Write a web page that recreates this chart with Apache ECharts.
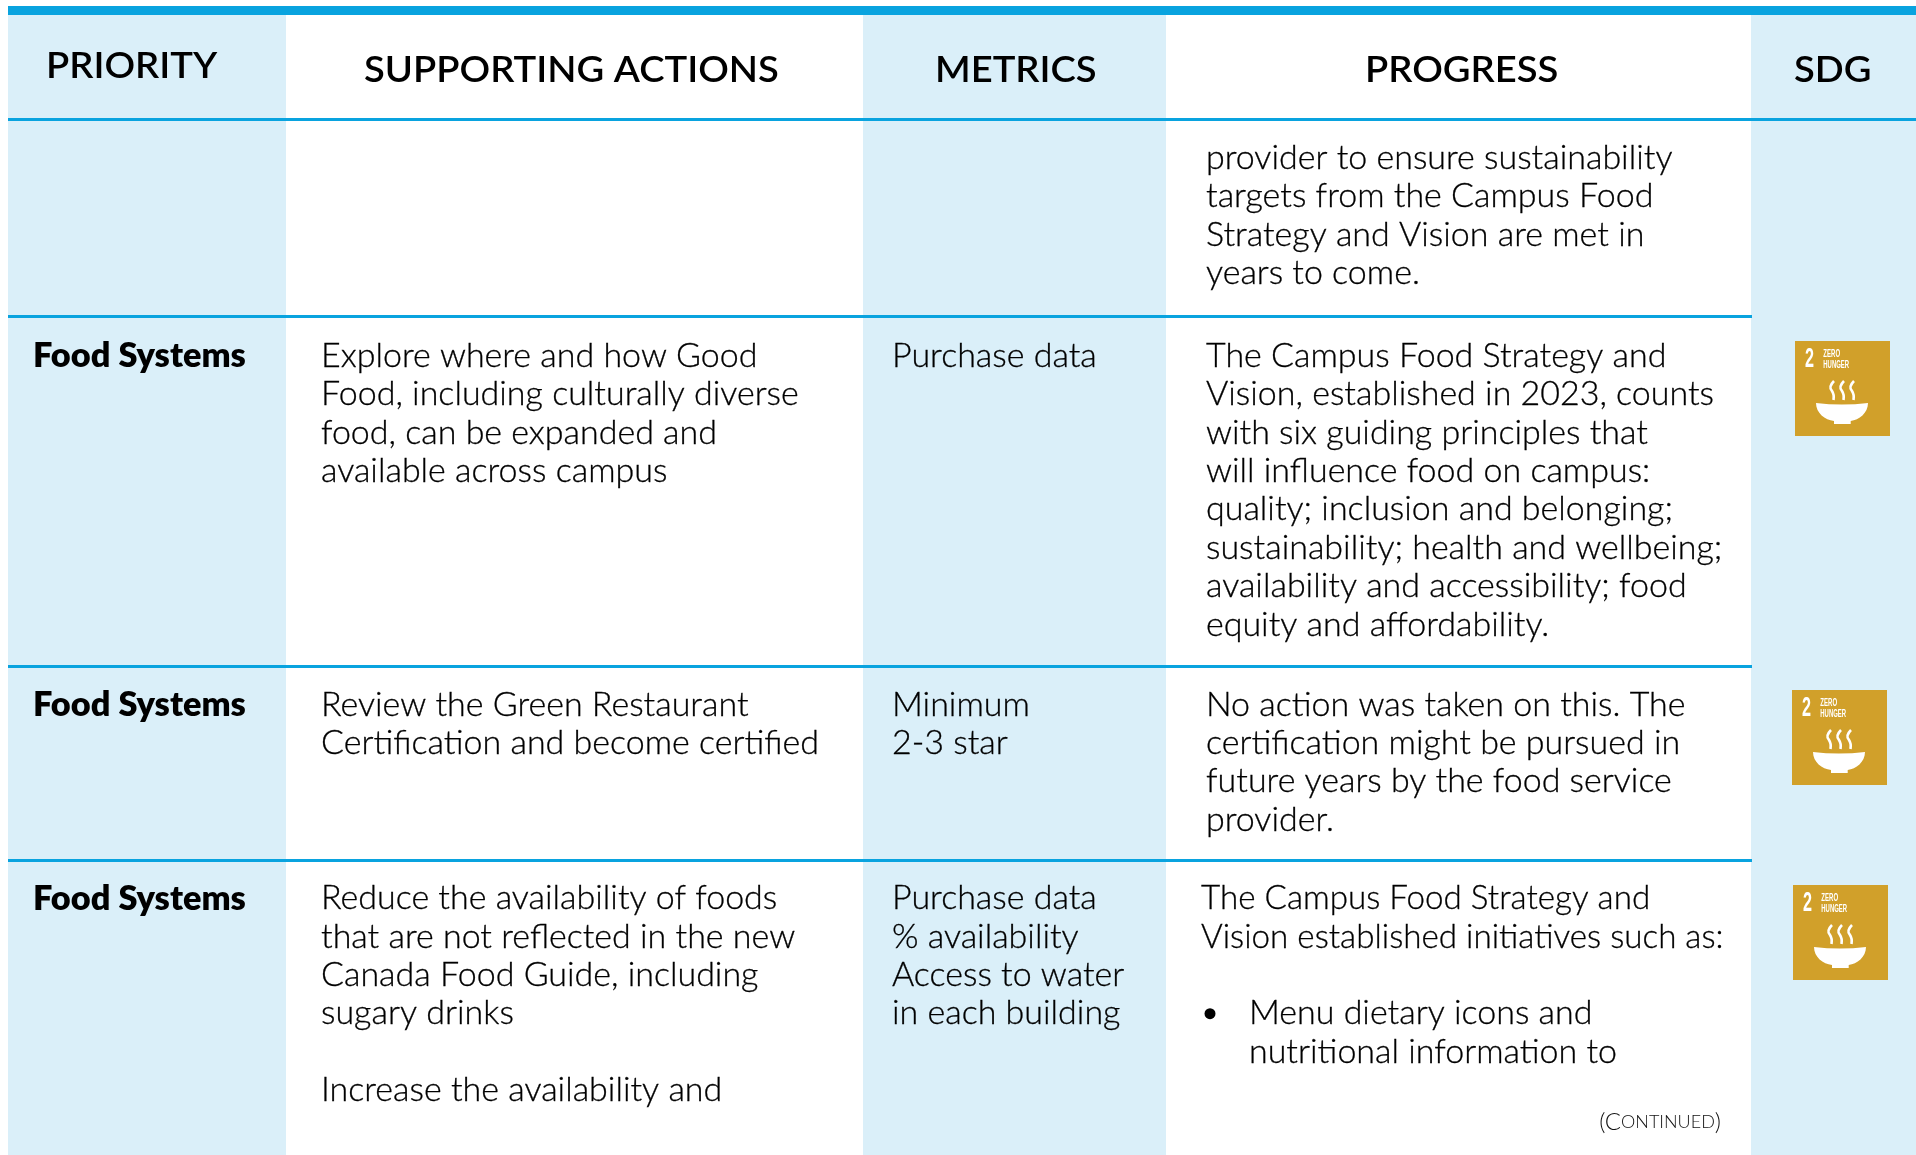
<!DOCTYPE html>
<html>
<head>
<meta charset="utf-8">
<title>Food Systems progress table</title>
<script src="https://cdn.jsdelivr.net/npm/echarts@6/dist/echarts.min.js"></script>
<style>
    html, body { margin: 0; padding: 0; background: #fff; }
    #chart { width: 1916px; height: 1155px; }
</style>
</head>
<body>
<div id="chart"></div>
<script>
// table content
var headers = ['PRIORITY', 'SUPPORTING ACTIONS', 'METRICS', 'PROGRESS', 'SDG'];
var priorities = ['', 'Food Systems', 'Food Systems', 'Food Systems'];
var actions = [
    [],
    ['Explore where and how Good', 'Food, including culturally diverse', 'food, can be expanded and', 'available across campus'],
    ['Review the Green Restaurant', 'Certification and become certified'],
    ['Reduce the availability of foods', 'that are not reflected in the new', 'Canada Food Guide, including', 'sugary drinks', '', 'Increase the availability and']
];
var metrics = [
    [],
    ['Purchase data'],
    ['Minimum', '2-3 star'],
    ['Purchase data', '% availability', 'Access to water', 'in each building']
];
var progress = [
    ['provider to ensure sustainability', 'targets from the Campus Food', 'Strategy and Vision are met in', 'years to come.'],
    ['The Campus Food Strategy and', 'Vision, established in 2023, counts', 'with six guiding principles that', 'will influence food on campus:', 'quality; inclusion and belonging;', 'sustainability; health and wellbeing;', 'availability and accessibility; food', 'equity and affordability.'],
    ['No action was taken on this. The', 'certification might be pursued in', 'future years by the food service', 'provider.'],
    ['The Campus Food Strategy and', 'Vision established initiatives such as:']
];
var bulletLines = ['Menu dietary icons and', 'nutritional information to'];
var sdgLabels = ['ZERO', 'HUNGER'];
var sdgNumber = '2';

// layout, in page pixels
var columnEdges = [8, 286, 863, 1166, 1751, 1916];
var ruleRows = [316.5, 666.5, 860.5];
var firstLineY = [158.1, 356.1, 704.9, 898.5];
var lineHeight = 38.4;
var iconBoxes = [[1795, 341], [1792, 690], [1793, 885]];
var iconSize = 95;

var BLUE = '#09a3df';
var PALE = '#daeff9';
var GOLD = '#d1a02a';
var FONT = 'Lato';

// flat list of text pieces, [x, y, text, style]
var texts = [];
[46, 364, 935, 1365, 1794].forEach(function (x, i) {
    texts.push([x, i === 0 ? 66 : 70.5, headers[i], 'head']);
});
function addLines(x, y, lines, style) {
    lines.forEach(function (line, i) {
        if (line) texts.push([x, y + i * lineHeight, line, style]);
    });
}
priorities.forEach(function (p, r) {
    if (p) texts.push([33, firstLineY[r] + 0.5, p, 'bold']);
    addLines(321, firstLineY[r], actions[r], 'body');
    addLines(892, firstLineY[r], metrics[r], 'body');
    addLines(r === 3 ? 1201 : 1206, firstLineY[r], progress[r], r === 3 ? 'tight' : 'body');
});
addLines(1249, firstLineY[3] + 3 * lineHeight, bulletLines, 'body');

// scaleX stands in for the wider face of the original
var textStyles = {
    head: { fontSize: 37, fontWeight: 600, scaleX: 1.03 },
    bold: { fontSize: 33, fontWeight: 800, scaleX: 1.04 },
    body: { fontSize: 33, fontWeight: 300, scaleX: 1.03, stroke: 0.3 },
    tight: { fontSize: 33, fontWeight: 300, scaleX: 1.005, stroke: 0.3 }
};

var myChart = echarts.init(document.getElementById('chart'));

var option = {
    animation: false,
    backgroundColor: '#fff',
    grid: { left: 0, right: 0, top: 0, bottom: 0 },
    xAxis: { type: 'value', min: 0, max: 1916, show: false },
    yAxis: { type: 'value', min: 0, max: 1155, inverse: true, show: false },
    series: [{
        // pale column stripes
        name: 'columns',
        type: 'custom',
        coordinateSystem: 'cartesian2d',
        silent: true,
        clip: false,
        data: [0, 2, 4].map(function (c) { return [c]; }),
        renderItem: function (params, api) {
            var c = api.value(0);
            var a = api.coord([columnEdges[c], 15]);
            var b = api.coord([columnEdges[c + 1], 1155]);
            return { type: 'rect', shape: { x: a[0], y: a[1], width: b[0] - a[0], height: b[1] - a[1] }, style: { fill: PALE } };
        }
    }, {
        // blue rules
        name: 'rules',
        type: 'custom',
        coordinateSystem: 'cartesian2d',
        silent: true,
        clip: false,
        data: [[8, 1916, 10.5, 9], [8, 1916, 119.5, 3]].concat(ruleRows.map(function (y) { return [8, 1752, y, 3]; })),
        renderItem: function (params, api) {
            var a = api.coord([api.value(0), api.value(2)]);
            var b = api.coord([api.value(1), api.value(2)]);
            return { type: 'line', shape: { x1: a[0], y1: a[1], x2: b[0], y2: b[1] }, style: { stroke: BLUE, lineWidth: api.value(3) } };
        }
    }, {
        // cell text
        name: 'text',
        type: 'custom',
        coordinateSystem: 'cartesian2d',
        silent: true,
        clip: false,
        data: texts.map(function (t) { return [t[0], t[1]]; }),
        renderItem: function (params, api) {
            var t = texts[params.dataIndex];
            var p = api.coord([t[0], t[1]]);
            var s = textStyles[t[3]];
            return {
                type: 'text',
                x: p[0],
                y: p[1],
                scaleX: s.scaleX,
                style: {
                    text: t[2],
                    fill: '#000',
                    stroke: s.stroke ? '#000' : null,
                    lineWidth: s.stroke || 0,
                    fontFamily: FONT,
                    fontSize: s.fontSize,
                    fontWeight: s.fontWeight,
                    align: 'left',
                    verticalAlign: 'middle'
                }
            };
        }
    }, {
        // bullet point
        name: 'bullet',
        type: 'custom',
        coordinateSystem: 'cartesian2d',
        silent: true,
        clip: false,
        data: [[1210, firstLineY[3] + 3 * lineHeight]],
        renderItem: function (params, api) {
            var p = api.coord([api.value(0), api.value(1)]);
            return { type: 'circle', shape: { cx: p[0], cy: p[1], r: 5.5 }, style: { fill: '#000' } };
        }
    }, {
        // continued note, small caps
        name: 'note',
        type: 'custom',
        coordinateSystem: 'cartesian2d',
        silent: true,
        clip: false,
        data: [[1721, 1122]],
        renderItem: function (params, api) {
            var p = api.coord([api.value(0), api.value(1)]);
            return {
                type: 'text',
                x: p[0],
                y: p[1],
                style: {
                    text: '{a|(C}{b|ONTINUED}{a|)}',
                    align: 'right',
                    verticalAlign: 'middle',
                    rich: {
                        a: { fontFamily: FONT, fontWeight: 300, fontSize: 24, fill: '#111' },
                        b: { fontFamily: FONT, fontWeight: 300, fontSize: 18, fill: '#111' }
                    }
                }
            };
        }
    }, {
        // SDG 2 tiles
        name: 'sdg',
        type: 'custom',
        coordinateSystem: 'cartesian2d',
        silent: true,
        clip: false,
        data: iconBoxes,
        renderItem: function (params, api) {
            var p = api.coord([api.value(0), api.value(1)]);
            var narrow = 'Liberation Sans';
            return {
                type: 'group',
                x: p[0],
                y: p[1],
                children: [
                    { type: 'rect', shape: { x: 0, y: 0, width: iconSize, height: iconSize }, style: { fill: GOLD } },
                    { type: 'text', x: 10, y: 18.2, scaleX: 0.6, style: { text: sdgNumber, fill: '#fff', fontFamily: narrow, fontWeight: 700, fontSize: 27, verticalAlign: 'middle' } },
                    { type: 'text', x: 28.3, y: 12.6, scaleX: 0.55, style: { text: sdgLabels[0], fill: '#fff', fontFamily: narrow, fontWeight: 700, fontSize: 11, verticalAlign: 'middle' } },
                    { type: 'text', x: 28.3, y: 24, scaleX: 0.54, style: { text: sdgLabels[1], fill: '#fff', fontFamily: narrow, fontWeight: 700, fontSize: 11, verticalAlign: 'middle' } },
                    { type: 'path', shape: { pathData: 'M21 62 Q47 65 73 62 C73 72 64 79 55.7 80 L55.7 83 L39 83 L39 80 C30 79 21 72 21 62 Z' }, style: { fill: '#fff' } },
                    { type: 'path', shape: { pathData: 'M39 40 C34 45 35 48 37 50 C39 53 39 56 38.5 59 M49 40 C44 45 45 48 47 50 C49 53 49 56 48.5 59 M59 40 C54 45 55 48 57 50 C59 53 59 56 58.5 59' }, style: { fill: 'none', stroke: '#fff', lineWidth: 2.6 } }
                ]
            };
        }
    }]
};

myChart.setOption(option);
</script>
</body>
</html>
